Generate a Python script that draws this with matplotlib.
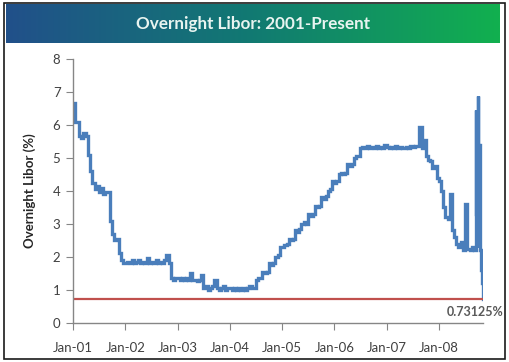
#!/usr/bin/env python3
"""
Overnight Libor 2001-present, redrawn in the old Excel style.
"""

import numpy as np
import pandas as pd
import matplotlib
matplotlib.use("Agg")
import matplotlib.pyplot as plt
import matplotlib.dates as mdates
from matplotlib.colors import LinearSegmentedColormap
from matplotlib.patches import Rectangle

# semi-monthly readings (1st and 15th of each month)
libor_2001 = [6.65, 6.1, 6.1, 5.65, 5.6, 5.75, 5.65, 5.1, 4.6, 4.25, 4.05, 4.15,
              3.95, 4.1, 3.9, 3.95, 3.95, 3.1, 2.7, 2.5, 2.55, 2.1, 1.9, 1.8]
libor_2002 = [1.8, 1.85, 1.8, 1.9, 1.8, 1.85, 1.9, 1.8, 1.85, 1.8, 1.95, 1.8,
              1.85, 1.8, 1.9, 1.8, 1.85, 1.8, 1.9, 2.05, 1.8, 1.35, 1.3, 1.35]
libor_2003 = [1.35, 1.3, 1.35, 1.3, 1.35, 1.3, 1.5, 1.3, 1.3, 1.25, 1.3, 1.45,
              1.05, 1.1, 1.0, 1.05, 1.1, 1.3, 1.05, 1.0, 1.05, 1.1, 1.0, 1.05]
libor_2004 = [1.05, 1.0, 1.05, 1.0, 1.05, 1.0, 1.05, 1.0, 1.05, 1.1, 1.05, 1.05,
              1.3, 1.35, 1.35, 1.55, 1.5, 1.55, 1.8, 1.75, 1.8, 2.0, 2.05, 2.3]
libor_2005 = [2.3, 2.35, 2.4, 2.55, 2.5, 2.55, 2.8, 2.75, 2.85, 3.0, 3.05, 3.0,
              3.3, 3.25, 3.3, 3.55, 3.5, 3.55, 3.8, 3.75, 3.85, 4.0, 4.05, 4.3]
libor_2006 = [4.25, 4.3, 4.5, 4.55, 4.5, 4.55, 4.8, 4.75, 4.8, 5.0, 5.05, 5.05,
              5.3, 5.32, 5.3, 5.35, 5.3, 5.32, 5.3, 5.35, 5.3, 5.32, 5.3, 5.38]
libor_2007 = [5.32, 5.3, 5.32, 5.3, 5.35, 5.3, 5.32, 5.3, 5.3, 5.32, 5.3, 5.35,
              5.32, 5.35, 5.35, 5.95, 5.3, 5.55, 5.05, 4.95, 4.9, 4.7, 4.75, 4.4]
libor_2008 = [4.3, 4.0, 3.5, 3.2, 3.15, 3.9, 2.8, 2.6, 2.4, 2.3, 2.45, 2.2,
              3.6, 2.25, 2.2, 2.3, 2.2]

# daily readings through the autumn 2008 turmoil
tail_dates = ["2008-09-12", "2008-09-16", "2008-09-18", "2008-09-22", "2008-09-25",
              "2008-09-30", "2008-10-01", "2008-10-03", "2008-10-07", "2008-10-09",
              "2008-10-10", "2008-10-14", "2008-10-20", "2008-10-27", "2008-10-31",
              "2008-11-03"]
tail_values = [2.3, 6.44, 3.3, 2.5, 2.4, 6.88, 3.9, 2.3, 3.9, 5.38,
               2.9, 2.2, 1.6, 1.2, 0.9, 0.73125]

current_rate = 0.73125
title = "Overnight Libor: 2001-Present"

semi = (libor_2001 + libor_2002 + libor_2003 + libor_2004 + libor_2005
        + libor_2006 + libor_2007 + libor_2008)
semi_dates = pd.date_range("2001-01-01", periods=len(semi), freq="SMS")
dates = list(semi_dates) + list(pd.to_datetime(tail_dates))
values = semi + tail_values

BLUE = "#4a7ebb"
RED = "#c0504d"
GRAY = "#868686"
TXT = "#404040"

fig = plt.figure(figsize=(5.10, 3.62), dpi=100)
W, H = 510.0, 362.0

# outer frame
fig.patches.append(Rectangle((4 / W, 1 - 359 / H), 501 / W, 356 / H,
                             transform=fig.transFigure, fill=False,
                             edgecolor="#1a1a1a", linewidth=1.2))

# gradient title bar
bar = fig.add_axes([6 / W, 1 - 43 / H, 494 / W, 39 / H])
cmap = LinearSegmentedColormap.from_list("bar", ["#21508a", "#117a72", "#12b04f"])
bar.imshow(np.linspace(0, 1, 256)[None, :], aspect="auto", cmap=cmap,
           extent=[0, 1, 0, 1])
bar.set_axis_off()
bar.text(0.5, 0.5, title, ha="center", va="center", color="#e8f4f0",
         fontsize=12.3, fontweight="bold", family="Lato", transform=bar.transAxes)

ax = fig.add_axes([73 / W, 1 - 322.7 / H, 410 / W, 263.7 / H])
ax.plot(dates, values, color=BLUE, linewidth=2.4, drawstyle="steps-post",
        solid_joinstyle="miter")
ax.axhline(current_rate, color=RED, linewidth=1.6)

ax.set_ylim(0, 8)
ax.set_xlim(pd.Timestamp("2001-01-01"), dates[-1])
ax.set_yticks(range(0, 9))
ax.xaxis.set_major_locator(mdates.YearLocator())
ax.xaxis.set_major_formatter(mdates.DateFormatter("%b-%y"))

for s in ["top", "right"]:
    ax.spines[s].set_visible(False)
for s in ["left", "bottom"]:
    ax.spines[s].set_color(GRAY)
    ax.spines[s].set_linewidth(1.0)
ax.tick_params(axis="both", direction="out", length=5, color=GRAY,
               labelsize=9.5, labelcolor=TXT, pad=4)
for lab in ax.get_xticklabels() + ax.get_yticklabels():
    lab.set_family("Lato")
ax.tick_params(axis="x", pad=9)

ax.set_ylabel("Overnight Libor (%)", fontsize=9.5, fontweight="bold",
              family="Lato", color="#262626", labelpad=12)

fig.text(504 / W, 1 - 312 / H, f"{current_rate:.5f}%", ha="right", va="center",
         fontsize=9, fontweight="bold", family="Lato", color="#595959")

fig.savefig("out.png", dpi=100)
